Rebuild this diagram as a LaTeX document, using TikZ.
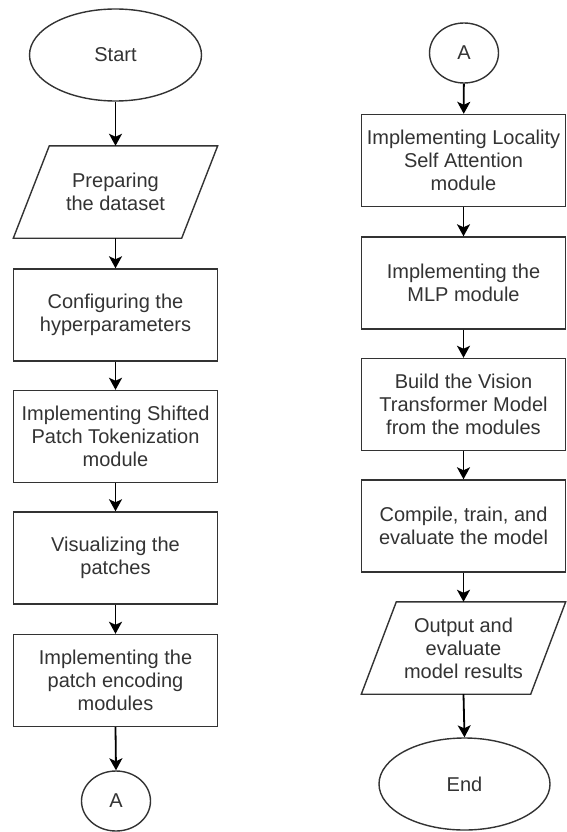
\documentclass[tikz,border=0pt]{standalone}
\usepackage{fontspec}
\setmainfont{Liberation Sans}
\usetikzlibrary{shapes.geometric,arrows.meta,calc}
\definecolor{txt}{HTML}{333333}
\definecolor{edge}{HTML}{333333}
\begin{document}
\begin{tikzpicture}[x=1pt,y=-1pt,
  lbl/.style={font=\fontsize{20}{23}\selectfont,text=txt,align=center,inner sep=0pt},
  box/.style={lbl,draw=edge,line width=1.4pt,minimum width=204pt,minimum height=92pt},
  io/.style={lbl,minimum width=204pt,minimum height=92pt},
  term/.style={lbl,ellipse,draw=edge,line width=1.4pt,minimum width=172pt,minimum height=92pt},
  conn/.style={lbl,ellipse,draw=edge,line width=1.4pt,minimum width=69pt,minimum height=60pt},
  flow/.style={-{Stealth[length=12pt,width=13pt,inset=3pt]},line width=1.8pt,black},
  para/.style={draw=edge,line width=1.4pt}
]
\fill[white] (0,0) rectangle (566,832);
\useasboundingbox (0,0) rectangle (566,832);

% left column
\node[term] (start) at (115.5,55) {Start};
\node[io]   (prep)  at (115.5,192) {Preparing\\the dataset};
\draw[para] ($(prep.north west)+(36,0)$) -- (prep.north east) -- ($(prep.south east)+(-36,0)$) -- (prep.south west) -- cycle;
\node[box]  (conf)  at (115.5,315) {Configuring the\\hyperparameters};
\node[box]  (spt)   at (115.5,436.5) {Implementing Shifted\\Patch Tokenization\\module};
\node[box]  (vis)   at (115.5,558) {Visualizing the\\patches};
\node[box]  (enc)   at (115.5,680.5) {Implementing the\\patch encoding\\modules};
\node[conn] (a1)    at (116,801) {A};

% right column
\node[conn] (a2)    at (464,53) {A};
\node[box]  (lsa)   at (463.5,160.5) {Implementing Locality\\Self Attention\\module};
\node[box]  (mlp)   at (463.5,283) {Implementing the\\MLP module};
\node[box]  (vit)   at (463.5,404.5) {Build the Vision\\Transformer Model\\from the modules};
\node[box]  (ctr)   at (463.5,526) {Compile, train, and\\evaluate the model};
\node[io]   (out)   at (463.5,648) {Output and\\evaluate\\model results};
\draw[para] ($(out.north west)+(35,0)$) -- (out.north east) -- ($(out.south east)+(-35,0)$) -- (out.south west) -- cycle;
\node[term,minimum width=171pt] (end) at (464.5,784) {End};

% connectors
\draw[flow] (start) -- (prep);
\draw[flow] (prep) -- (conf);
\draw[flow] (conf) -- (spt);
\draw[flow] (spt) -- (vis);
\draw[flow] (vis) -- (enc);
\draw[flow] (enc.south) -- (a1.north);
\draw[flow] (a2) -- (lsa);
\draw[flow] (lsa) -- (mlp);
\draw[flow] (mlp) -- (vit);
\draw[flow] (vit) -- (ctr);
\draw[flow] (ctr) -- (out);
\draw[flow] (out.south) -- (end.north);
\end{tikzpicture}
\end{document}
